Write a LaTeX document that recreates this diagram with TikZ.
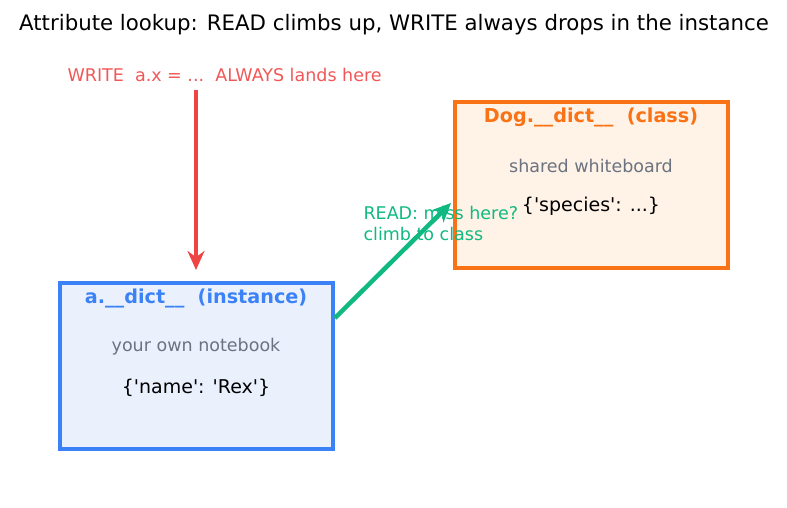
\documentclass[tikz,border=0pt]{standalone}
\usepackage{fontspec}
\setmainfont{DejaVu Sans}
\newfontfamily\plainfont{DejaVu Sans}
\usetikzlibrary{arrows.meta}
\definecolor{cblue}{HTML}{3B82F6}
\definecolor{cbluefill}{HTML}{EAF1FD}
\definecolor{corange}{HTML}{F97316}
\definecolor{corangefill}{HTML}{FFF2E6}
\definecolor{cred}{HTML}{EF4444}
\definecolor{cgreen}{HTML}{10B981}
\definecolor{cgray}{HTML}{6B7280}
\tikzset{lookup/.style={x=1pt,y=-1pt},
  dictbox/.style={draw,line width=3.8pt,minimum width=273pt,minimum height=166pt,inner sep=0pt},
  boxtitle/.style={font=\fontsize{19.2}{22}\selectfont\bfseries},
  boxnote/.style={cgray,font=\fontsize{17.5}{20}\selectfont},
  boxdata/.style={font=\plainfont\fontsize{19}{22}\selectfont},
  flow/.style={line width=4.5pt,-{Stealth[length=19pt,width=17pt]}}}

\begin{document}
\begin{tikzpicture}[lookup]
    \useasboundingbox (0,0) rectangle (787,508);
    \node[font=\fontsize{21.3}{24}\selectfont] (title) at (394,25) {Attribute lookup: READ climbs up, WRITE always drops in the instance};
    % the two namespaces
    \node[dictbox,cblue,fill=cbluefill] (inst) at (196.5,366) {};
    \node[dictbox,corange,fill=corangefill] (cls) at (591.5,185) {};
    \node[boxtitle,cblue] (insttitle) at (196,298) {a.\_\_dict\_\_\ \ (instance)};
    \node[boxnote] (instnote) at (196,347) {your own notebook};
    \node[boxdata] (instdata) at (196,388) {\{'name': 'Rex'\}};
    \node[boxtitle,corange] (clstitle) at (591,117) {Dog.\_\_dict\_\_\ \ (class)};
    \node[boxnote] (clsnote) at (591,166) {shared whiteboard};
    \node[boxdata] (clsdata) at (591,206) {\{'species': ...\}};
    % write goes straight down
    \node[cred!90!white,anchor=west,font=\fontsize{17.5}{20}\selectfont] (write) at (64,75) {WRITE\ \ a.x = ...\ \ ALWAYS lands here};
    \coordinate (wtop) at (196,90);
    \coordinate (wend) at (196,270);
    \draw[flow,cred] (wtop) -- (wend);
    % read climbs to the class
    \coordinate (rstart) at (inst.east |- 0,318);
    \coordinate (rend) at (451,203);
    \draw[flow,cgreen] (rstart) -- (rend);
    \node[cgreen,anchor=west,align=left,font=\fontsize{17.5}{21}\selectfont] (read) at (360,223.5) {READ: miss here?\\climb to class};
\end{tikzpicture}
\end{document}
